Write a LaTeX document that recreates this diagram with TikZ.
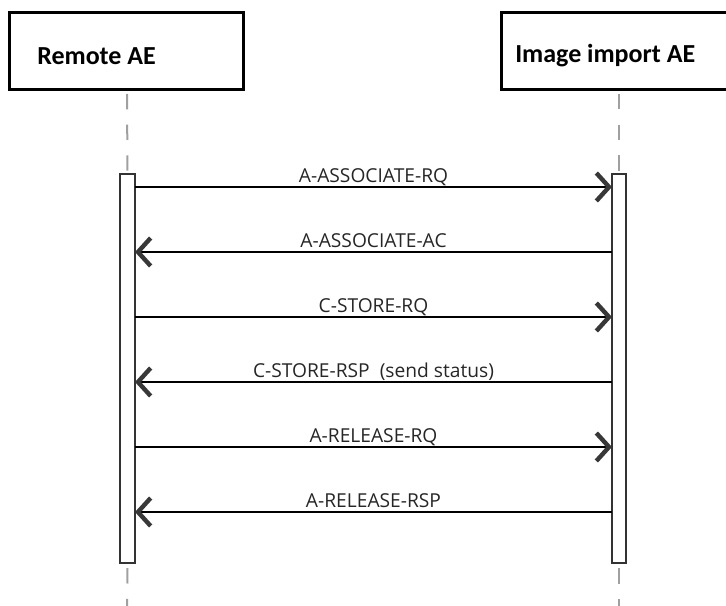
\documentclass[tikz,border=0pt]{standalone}
\usepackage{fontspec}
\setmainfont{Open Sans}
\newfontfamily\headfont{Carlito}
\usetikzlibrary{arrows.meta}

\definecolor{lifegray}{HTML}{A0A0A0}
\definecolor{tipgray}{HTML}{383838}
\definecolor{bargray}{HTML}{333333}
\definecolor{lblgray}{HTML}{262626}

\begin{document}
\begin{tikzpicture}[x=0.75pt,y=-0.75pt]

    \tikzset{
      actorbox/.style={
        draw=black,
        line width=2.25pt,
      },
      head/.style={
        anchor=base west,
        inner sep=0pt,
        font=\headfont\bfseries\fontsize{19.5pt}{22pt}\selectfont,
      },
      bar/.style={
        draw=bargray,
        fill=white,
        line width=1.1pt,
        inner sep=0pt,
        outer sep=0pt,
        minimum height=291.5pt,
      },
      life/.style={
        draw=lifegray,
        line width=1.5pt,
        dash pattern=on 11.5pt off 11.5pt,
      },
      msg/.style={
        line width=2.1pt,
        -{Straight Barb[sharp,length=9.5pt,width=21pt,line width=3.3pt,color=tipgray]},
      },
      lbl/.style={
        midway,
        anchor=base,
        yshift=3pt,
        inner sep=0pt,
        text=lblgray,
        font=\fontsize{14.4pt}{16pt}\selectfont,
      },
    }
    \useasboundingbox (0,0) rectangle (726,606);
    \clip (0,0) rectangle (726,606);

	% actors
	\draw[actorbox] (9,13) rectangle (243,90);
	\node[head] (remote) at (37,65) {Remote AE};
	\draw[actorbox] (501,13) rectangle (745,90);
	\node[head] (import) at (515,63) {Image import AE};

	% lifelines
	\coordinate (ltop) at (127,94);
	\coordinate (rtop) at (619,94);
	\coordinate (lend) at (127,610);
	\coordinate (rend) at (619,610);
	\node[bar,minimum width=11.25pt] (lbar) at (127.5,368.5) {};
	\node[bar,minimum width=10.5pt] (rbar) at (619,368.5) {};
	\draw[life] (ltop) -- (lbar.north);
	\draw[life] (rtop) -- (rbar.north);
	\draw[life] ([yshift=-4pt]lbar.south) -- (lend);
	\draw[life] ([yshift=-4pt]rbar.south) -- (rend);

	% messages
	\draw[msg] (lbar.east |- 0,187) -- (rbar.west |- 0,187) node[lbl] (assocrq) {A-ASSOCIATE-RQ};
	\draw[msg] (rbar.west |- 0,252) -- (lbar.east |- 0,252) node[lbl] (assocac) {A-ASSOCIATE-AC};
	\draw[msg] (lbar.east |- 0,317) -- (rbar.west |- 0,317) node[lbl] (storerq) {C-STORE-RQ};
	\draw[msg] (rbar.west |- 0,382) -- (lbar.east |- 0,382) node[lbl] (storersp) {C-STORE-RSP\ \ (send status)};
	\draw[msg] (lbar.east |- 0,447) -- (rbar.west |- 0,447) node[lbl] (releaserq) {A-RELEASE-RQ};
	\draw[msg] (rbar.west |- 0,512) -- (lbar.east |- 0,512) node[lbl] (releasersp) {A-RELEASE-RSP};

\end{tikzpicture}
\end{document}
